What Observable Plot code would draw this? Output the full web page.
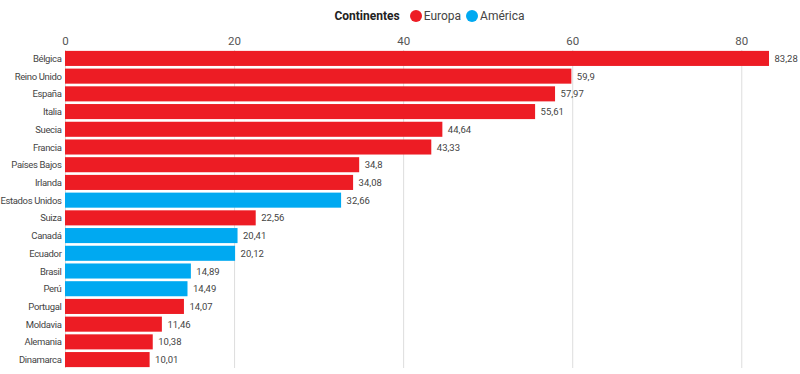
<!DOCTYPE html>
<html><head><meta charset="utf-8">
<script src="https://cdn.jsdelivr.net/npm/d3@7"></script>
<script src="https://cdn.jsdelivr.net/npm/@observablehq/plot@0.6"></script>
<style>
body{margin:0;background:#fff;font-family:Roboto,"Noto Sans",sans-serif;}
#legend{height:30px;display:flex;align-items:center;justify-content:center;font-size:12px;color:#444;padding-left:64px;box-sizing:border-box;padding-top:2px;}
#legend b{margin-right:10px;color:#222;font-weight:700}
#legend .sw{display:inline-block;width:12px;height:12px;border-radius:50%;margin-right:2px;}
#legend .it{margin-right:5px;display:flex;align-items:center}
#chart svg{display:block}
#chart svg g[aria-label="y-axis tick label"] text{letter-spacing:-0.35px}
</style></head>
<body>
<div id="legend"></div>
<div id="chart"></div>
<script>
const paises = ["Bélgica","Reino Unido","España","Italia","Suecia","Francia","Países Bajos","Irlanda","Estados Unidos","Suiza","Canadá","Ecuador","Brasil","Perú","Portugal","Moldavia","Alemania","Dinamarca"];
const valores = [83.28,59.9,57.97,55.61,44.64,43.33,34.8,34.08,32.66,22.56,20.41,20.12,14.89,14.49,14.07,11.46,10.38,10.01];
const continentes = ["Europa","Europa","Europa","Europa","Europa","Europa","Europa","Europa","América","Europa","América","América","América","América","Europa","Europa","Europa","Europa"];
const categorias = ["Europa","América"];
const colores = ["#ED1C24","#00A9F1"];
const ticks = [0,20,40,60,80];

const data = paises.map((p,i)=>({pais:p, valor:valores[i], cont:continentes[i]}));
const fmt = v => String(v).replace(".", ",");

const leg = document.getElementById("legend");
leg.innerHTML = "<b>Continentes</b>" + categorias.map((c,i)=>`<span class="it"><span class="sw" style="background:${colores[i]}"></span>${c}</span>`).join("");

const FF = "Roboto, 'Noto Sans', sans-serif";
const chart = Plot.plot({
  width: 800,
  height: 344,
  marginTop: 20,
  marginBottom: 6,
  marginLeft: 65,
  marginRight: 8,
  style: {fontFamily: FF, fontSize: "10px", color: "#444"},
  x: {domain: [0, 86], label: null},
  y: {domain: paises, label: null, paddingInner: 0.15, paddingOuter: 0.05, round: false},
  color: {domain: categorias, range: colores},
  marks: [
    Plot.gridX(ticks, {stroke: "#ddd", strokeOpacity: 1}),
    Plot.axisX({anchor: "top", ticks: ticks, tickSize: 0, tickPadding: 6, fontSize: 11.5, fill: "#555", label: null}),
    Plot.axisY({tickSize: 0, tickPadding: 4, fontSize: 9.5, fill: "#444", label: null}),
    Plot.barX(data, {x: "valor", y: "pais", fill: "cont"}),
    Plot.text(data, {x: "valor", y: "pais", text: d => fmt(d.valor), textAnchor: "start", dx: 5, fontSize: 9.5, fill: "#444"})
  ]
});
document.getElementById("chart").appendChild(chart);
</script>
</body></html>
